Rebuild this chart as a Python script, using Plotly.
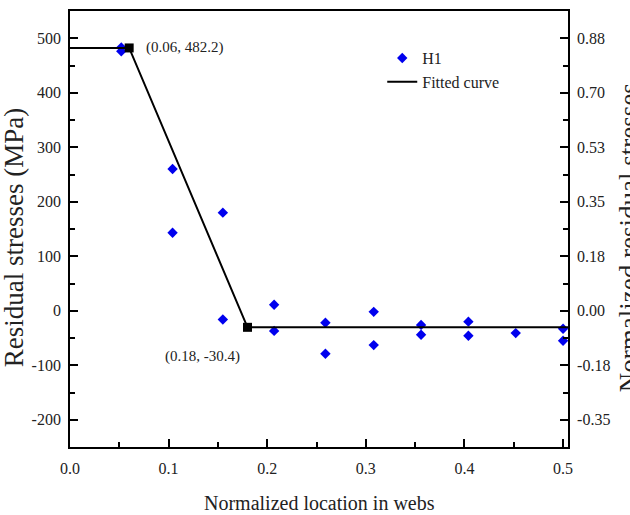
import plotly.graph_objects as go

# Measured data (H1)
h1_x = [0.052, 0.052, 0.104, 0.104, 0.155, 0.155, 0.207, 0.207, 0.259, 0.259,
        0.308, 0.308, 0.356, 0.356, 0.404, 0.404, 0.452, 0.500, 0.500]
h1_y = [483, 476, 260, 143, 180, -16, 11, -37, -22, -79,
        -2, -63, -26, -44, -20, -46, -41, -33, -55]

# Fitted curve (piecewise linear)
fit_x = [0.0, 0.06, 0.18, 0.505]
fit_y = [482.2, 482.2, -30.4, -30.4]

# Break points
bp_x = [0.06, 0.18]
bp_y = [482.2, -30.4]
bp_labels = ["(0.06, 482.2)", "(0.18, -30.4)"]

# Axis ticks
y_ticks = [-200, -100, 0, 100, 200, 300, 400, 500]
y_ticklabels = ["-200", "-100", "0", "100", "200", "300", "400", "500"]
y2_ticklabels = ["-0.35", "-0.18", "0.00", "0.18", "0.35", "0.53", "0.70", "0.88"]
x_ticks = [0.0, 0.1, 0.2, 0.3, 0.4, 0.5]
x_ticklabels = ["0.0", "0.1", "0.2", "0.3", "0.4", "0.5"]

FONT = "Liberation Serif"
TXT = "#222222"

fig = go.Figure()
fig.add_trace(go.Scatter(x=h1_x, y=h1_y, mode="markers", name="H1",
                         marker=dict(symbol="diamond", size=8, color="#0000ee")))
fig.add_trace(go.Scatter(x=fit_x, y=fit_y, mode="lines", name="Fitted curve",
                         line=dict(color="black", width=2)))
fig.add_trace(go.Scatter(x=bp_x, y=bp_y, mode="markers", showlegend=False,
                         marker=dict(symbol="square", size=9, color="black")))
# invisible trace for right axis
fig.add_trace(go.Scatter(x=[0], y=[0], yaxis="y2", mode="markers", showlegend=False,
                         marker=dict(opacity=0), hoverinfo="skip"))

axis_common = dict(showline=True, linecolor="black", linewidth=1.8,
                   ticks="inside", ticklen=8, tickwidth=1.5, tickcolor="black",
                   showgrid=False, zeroline=False, automargin=False,
                   tickfont=dict(family=FONT, size=16, color=TXT))

fig.update_layout(
    template="none",
    width=630, height=515,
    margin=dict(l=70, r=62, t=11, b=68, autoexpand=False),
    plot_bgcolor="white", paper_bgcolor="white",
    xaxis=dict(range=[0, 0.505], tickvals=x_ticks, ticktext=x_ticklabels,
               mirror=True, ticklabelstandoff=6,
               minor=dict(ticks="inside", ticklen=5, dtick=0.05, tick0=0,
                          tickcolor="black", tickwidth=1.5),
               **axis_common),
    yaxis=dict(range=[-250, 550], tickvals=y_ticks, ticktext=y_ticklabels,
               ticklabelstandoff=4,
               minor=dict(ticks="inside", ticklen=5, dtick=50, tick0=0,
                          tickcolor="black", tickwidth=1.5),
               **axis_common),
    yaxis2=dict(range=[-250, 550], overlaying="y", side="right",
                tickvals=y_ticks, ticktext=y2_ticklabels, ticklabelstandoff=4,
                minor=dict(ticks="inside", ticklen=5, dtick=50, tick0=0,
                           tickcolor="black", tickwidth=1.5),
                **axis_common),
    legend=dict(x=0.627, y=0.931, xanchor="left", yanchor="top",
                bgcolor="rgba(0,0,0,0)", borderwidth=0, tracegroupgap=0,
                font=dict(family=FONT, size=16, color=TXT)),
    showlegend=True,
)

fig.add_annotation(x=bp_x[0], y=bp_y[0], text=bp_labels[0], showarrow=False,
                   xanchor="left", yanchor="middle", xshift=15, yshift=0,
                   font=dict(family=FONT, size=15, color=TXT))
fig.add_annotation(x=bp_x[1], y=bp_y[1], text=bp_labels[1], showarrow=False,
                   xanchor="center", yanchor="middle", xshift=-45, yshift=-29,
                   font=dict(family=FONT, size=15, color=TXT))

# Axis titles
fig.add_annotation(xref="paper", yref="paper", x=0.5, y=-0.128,
                   text="Normalized location in webs", showarrow=False,
                   xanchor="center", yanchor="middle",
                   font=dict(family=FONT, size=20, color=TXT))
fig.add_annotation(xref="paper", yref="paper", x=-0.1124, y=0.479,
                   text="Residual stresses (MPa)", showarrow=False, textangle=-90,
                   xanchor="center", yanchor="middle",
                   font=dict(family=FONT, size=27, color=TXT))
fig.add_annotation(xref="paper", yref="paper", x=1.1225, y=0.479,
                   text="Normalized residual stresses", showarrow=False, textangle=-90,
                   xanchor="center", yanchor="middle",
                   font=dict(family=FONT, size=27, color=TXT))

fig.write_html("out.html", post_script="document.body.style.margin='0';",
               config={"displayModeBar": False})
